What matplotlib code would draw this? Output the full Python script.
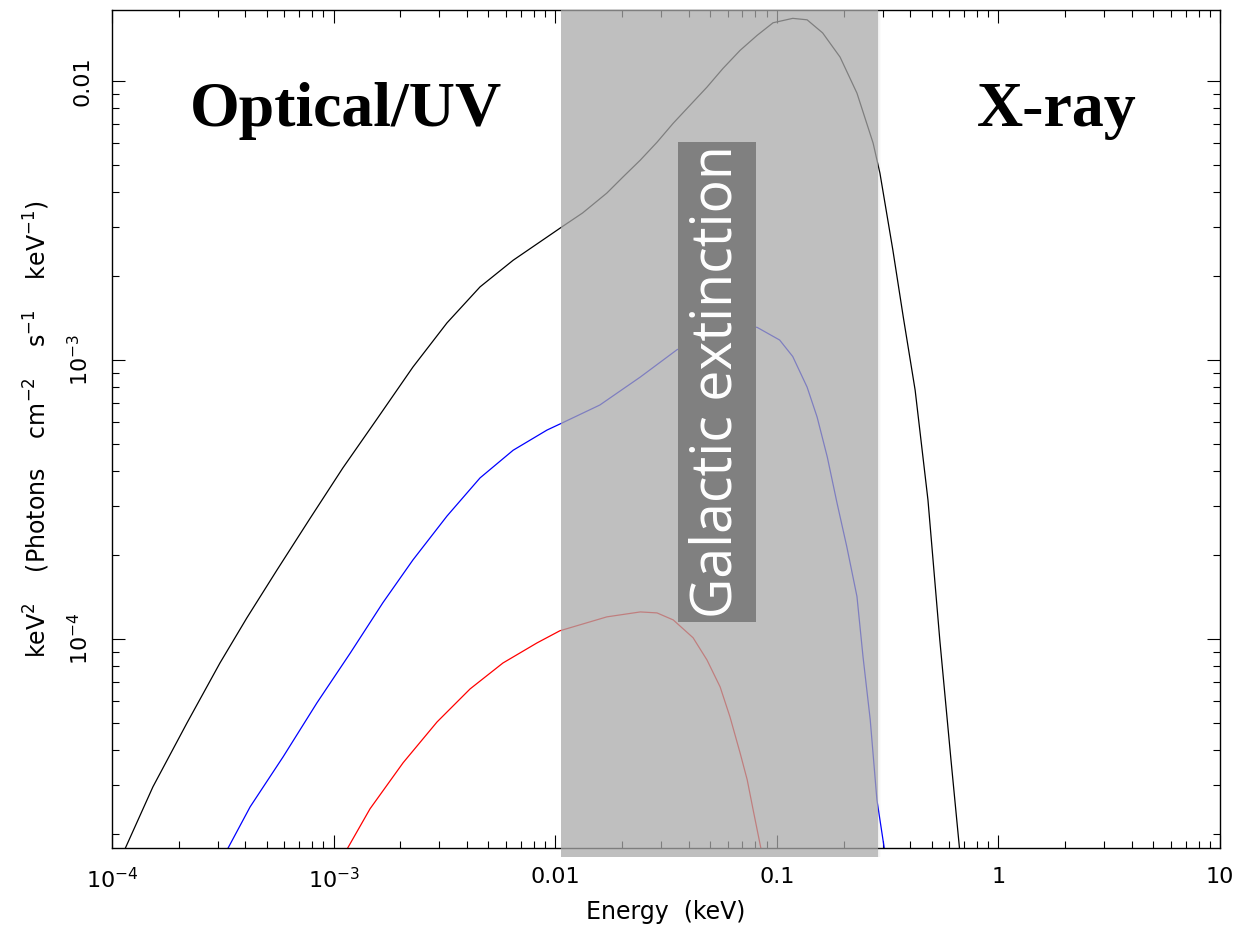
import numpy as np
import matplotlib.pyplot as plt
from matplotlib.patches import Rectangle
from matplotlib.ticker import FixedLocator, FixedFormatter, NullFormatter, LogLocator

# ---------------- data ----------------
# black curve: total model
black_e = [1.12e-4, 1.53e-4, 2.18e-4, 3.07e-4, 4.06e-4, 5.56e-4, 7.84e-4, 1.10e-3,
           1.57e-3, 2.28e-3, 3.25e-3, 4.58e-3, 6.46e-3, 9.18e-3, 0.0107, 0.0133,
           0.0171, 0.0202, 0.0242, 0.0288, 0.0341, 0.0406, 0.0484, 0.0571, 0.0683,
           0.0815, 0.0962, 0.118, 0.137, 0.161, 0.193, 0.230, 0.272, 0.292, 0.334,
           0.372, 0.421, 0.481, 0.544, 0.611, 0.671]
black_f = [1.7e-5, 2.95e-5, 5.00e-5, 8.20e-5, 1.19e-4, 1.77e-4, 2.71e-4, 4.10e-4,
           6.15e-4, 9.44e-4, 1.36e-3, 1.83e-3, 2.28e-3, 2.76e-3, 3.00e-3, 3.37e-3,
           3.97e-3, 4.53e-3, 5.21e-3, 6.04e-3, 7.07e-3, 8.20e-3, 9.52e-3, 0.0111, 0.0129,
           0.0146, 0.0162, 0.0168, 0.0166, 0.0149, 0.0122, 9.06e-3, 6.00e-3, 4.68e-3, 2.48e-3,
           1.43e-3, 7.80e-4, 3.15e-4, 9.91e-5, 3.68e-5, 1.7e-5]

# blue curve
blue_e = [3.24e-4, 4.20e-4, 5.92e-4, 8.41e-4, 1.19e-3, 1.67e-3, 2.28e-3, 3.25e-3,
          4.58e-3, 6.46e-3, 9.18e-3, 0.0107, 0.0159, 0.0242, 0.0355, 0.0555, 0.0683,
          0.0815, 0.103, 0.118, 0.137, 0.152, 0.169, 0.187, 0.207, 0.230, 0.245,
          0.264, 0.283, 0.308]
blue_f = [1.7e-5, 2.50e-5, 3.78e-5, 5.90e-5, 8.91e-5, 1.35e-4, 1.92e-4, 2.76e-4,
          3.78e-4, 4.75e-4, 5.61e-4, 5.94e-4, 6.90e-4, 8.69e-4, 1.09e-3, 1.25e-3, 1.33e-3,
          1.31e-3, 1.18e-3, 1.03e-3, 8.00e-4, 6.25e-4, 4.49e-4, 3.07e-4, 2.14e-4, 1.42e-4,
          8.62e-5, 5.13e-5, 2.65e-5, 1.7e-5]

# red curve
red_e = [1.12e-3, 1.46e-3, 2.06e-3, 2.93e-3, 4.13e-3, 5.81e-3, 8.28e-3, 0.0105,
         0.0171, 0.0242, 0.0288, 0.0341, 0.0419, 0.0484, 0.0555, 0.0615, 0.0683,
         0.0735, 0.0782, 0.0857]
red_f = [1.7e-5, 2.46e-5, 3.60e-5, 5.04e-5, 6.62e-5, 8.20e-5, 9.68e-5, 1.07e-4,
         1.20e-4, 1.25e-4, 1.24e-4, 1.17e-4, 1.01e-4, 8.41e-5, 6.73e-5, 5.25e-5, 3.90e-5,
         3.13e-5, 2.44e-5, 1.7e-5]

band = (0.0106, 0.286)   # galactic extinction range (keV)

x_ticks = [1e-4, 1e-3, 0.01, 0.1, 1, 10]
x_labels = ['$10^{-4}$', '$10^{-3}$', '0.01', '0.1', '1', '10']
y_ticks = [1e-4, 1e-3, 0.01]
y_labels = ['$10^{-4}$', '$10^{-3}$', '0.01']

# ---------------- plot ----------------
fig = plt.figure(figsize=(12.4, 9.26), dpi=100)
ax = fig.add_axes([112/1240, 1-848/926, 1108/1240, 838/926])

ax.loglog(black_e, black_f, color='black', lw=0.9)
ax.loglog(blue_e, blue_f, color='blue', lw=0.9)
ax.loglog(red_e, red_f, color='red', lw=0.9)

ax.set_xlim(1e-4, 10)
ax.set_ylim(1.78e-5, 0.018)

# grey band on top of the curves
ax.axvspan(band[0], band[1], ymin=-0.011, ymax=1, color='#aaaaaa', alpha=0.75,
           lw=0, zorder=3, clip_on=False)
for i, a in enumerate([0.12, 0.07, 0.03]):
    ax.axvspan(band[1] * 1.012**i, band[1] * 1.012**(i+1), ymin=-0.011, ymax=1,
               color='#888888', alpha=a, lw=0, zorder=3, clip_on=False)

# label box
ax.add_patch(Rectangle((0.5108, 0.2697), 0.0704, 0.5728, transform=ax.transAxes,
                       facecolor='#808080', edgecolor='none', zorder=4))
ax.text(0.5460, 0.5561, 'Galactic extinction', rotation=90, color='white',
        family='Open Sans', fontsize=40, ha='center', va='center', zorder=5,
        transform=ax.transAxes)

ax.text(0.0704, 0.8616, 'Optical/UV', transform=ax.transAxes, family='Liberation Serif',
        fontweight='bold', fontsize=46, ha='left', va='baseline')
ax.text(0.7807, 0.8616, 'X-ray', transform=ax.transAxes, family='Liberation Serif',
        fontweight='bold', fontsize=46, ha='left', va='baseline')

ax.xaxis.set_major_locator(FixedLocator(x_ticks))
ax.xaxis.set_major_formatter(FixedFormatter(x_labels))
ax.yaxis.set_major_locator(FixedLocator(y_ticks))
ax.yaxis.set_major_formatter(FixedFormatter(y_labels))
ax.xaxis.set_minor_locator(LogLocator(base=10, subs=np.arange(2, 10)))
ax.yaxis.set_minor_locator(LogLocator(base=10, subs=np.arange(2, 10)))
ax.xaxis.set_minor_formatter(NullFormatter())
ax.yaxis.set_minor_formatter(NullFormatter())

ax.tick_params(which='both', direction='in', top=True, right=True, width=0.8)
ax.tick_params(which='major', length=9.5, labelsize=16)
ax.tick_params(which='minor', length=5)
ax.tick_params(axis='x', pad=14)
ax.tick_params(axis='y', pad=14)
for lab in ax.get_yticklabels():
    lab.set_rotation(90)
    lab.set_va('center')

for s in ax.spines.values():
    s.set_linewidth(1.0)

ax.set_xlabel('Energy  (keV)', fontsize=17, labelpad=5)
ax.set_ylabel('keV$^2$    (Photons    cm$^{-2}$    s$^{-1}$    keV$^{-1}$)', fontsize=17,
              labelpad=11)

fig.savefig('out.png', dpi=100)
